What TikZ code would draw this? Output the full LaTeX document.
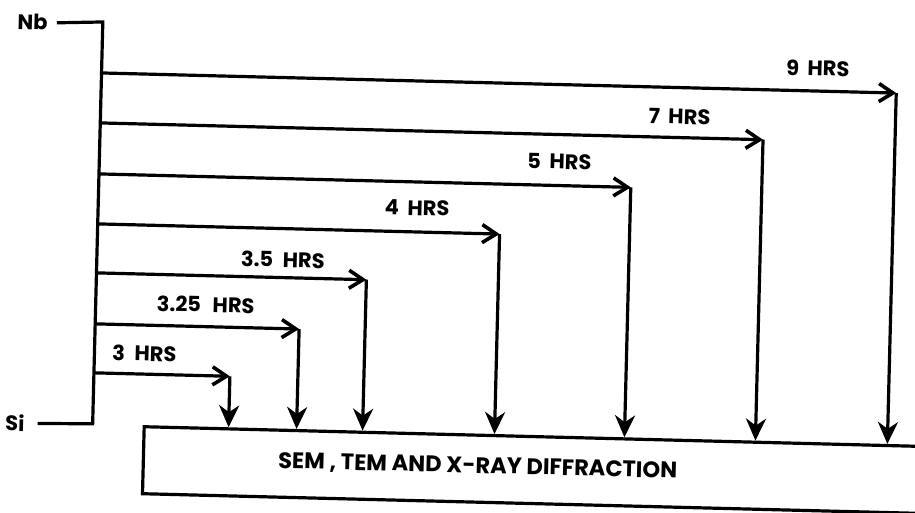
\documentclass[tikz,border=0pt]{standalone}
\usepackage{fontspec}
\setmainfont{Poppins}
\usetikzlibrary{arrows.meta}
\begin{document}
\begin{tikzpicture}[x=1pt,y=-1pt,
  ln/.style={line width=3.2pt},
  harrow/.style={ln, -{Straight Barb[length=14pt,width=18pt,line width=3.6pt]}},
  varrow/.style={ln, -{Stealth[length=22pt,width=20pt,inset=7pt]}},
  lab/.style={font=\bfseries\fontsize{21}{24}\selectfont, inner sep=0pt},
  side/.style={font=\bfseries\fontsize{21}{24}\selectfont, inner sep=0pt},
  boxstyle/.style={draw, ln, rectangle, anchor=north west, minimum width=820pt, minimum height=67pt, inner sep=0pt}
]
\useasboundingbox (0,0) rectangle (915,513);
\begin{scope}[rotate around={-1.45:(457,256)}, transform shape]
  % substance labels and bus
  \node[side, anchor=east] (nb) at (42,33) {Nb};
  \node[side, anchor=east] (si) at (29,434) {Si};
  \coordinate (bustop) at (97,31);
  \coordinate (busbot) at (97,433);
  \draw[ln] ([xshift=9pt]nb.east) -- (bustop) -- (busbot) -- ([xshift=13pt]si.east);
  % result box
  \node[boxstyle] (box) at (147,433) {};
  \node[font=\bfseries\fontsize{22.5}{26}\selectfont, inner sep=0pt] (title) at (483,466) {SEM , TEM AND X-RAY DIFFRACTION};
  % corners
  \coordinate (c9) at (892,82);
  \coordinate (c7) at (760,132);
  \coordinate (c5) at (629,183);
  \coordinate (c4) at (499,233);
  \coordinate (c35) at (367,282);
  \coordinate (c325) at (301,333);
  \coordinate (c3) at (233,382);
  \foreach \c in {c9,c7,c5,c4,c35,c325,c3}{
    \draw[harrow] (bustop |- \c) -- (\c);
    \draw[varrow] (\c) -- (\c |- box.north);
  }
  % time labels
  \node[lab] (l9) at (813,59) {9\hspace{0.4em}HRS};
  \node[lab] (l7) at (676,111) {7\hspace{0.4em}HRS};
  \node[lab] (l5) at (557,159) {5\hspace{0.4em}HRS};
  \node[lab] (l4) at (416,209) {4\hspace{0.4em}HRS};
  \node[lab] (l35) at (283,264) {3.5\hspace{0.45em}HRS};
  \node[lab] (l325) at (207,311) {3.25\hspace{0.55em}HRS};
  \node[lab] (l3) at (147,361) {3\hspace{0.45em}HRS};
\end{scope}
\end{tikzpicture}
\end{document}
